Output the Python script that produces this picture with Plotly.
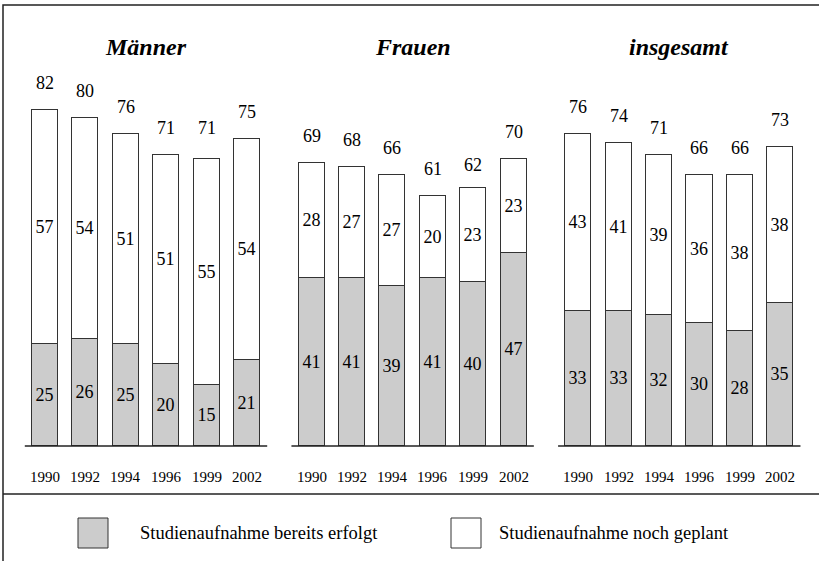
import plotly.graph_objects as go

groups = ["Männer", "Frauen", "insgesamt"]
years = ["1990", "1992", "1994", "1996", "1999", "2002"]
erfolgt = {
    "Männer": [25, 26, 25, 20, 15, 21],
    "Frauen": [41, 41, 39, 41, 40, 47],
    "insgesamt": [33, 33, 32, 30, 28, 35],
}
geplant = {
    "Männer": [57, 54, 51, 51, 55, 54],
    "Frauen": [28, 27, 27, 20, 23, 23],
    "insgesamt": [43, 41, 39, 36, 38, 38],
}
totals = {
    "Männer": [82, 80, 76, 71, 71, 75],
    "Frauen": [69, 68, 66, 61, 62, 70],
    "insgesamt": [76, 74, 71, 66, 66, 73],
}
legend_labels = ["Studienaufnahme bereits erfolgt", "Studienaufnahme noch geplant"]

GROUP_STEP = 6.6
FONT = "Liberation Serif"
GRAY = "#cccccc"
EDGE = "#333333"
W, H = 819, 561

xs, bottom, top, tot = [], [], [], []
for g, name in enumerate(groups):
    for i in range(len(years)):
        xs.append(g * GROUP_STEP + i)
        bottom.append(erfolgt[name][i])
        top.append(geplant[name][i])
        tot.append(totals[name][i])

fig = go.Figure()
fig.add_trace(go.Bar(
    x=xs, y=bottom, width=0.645, marker=dict(color=GRAY, line=dict(color=EDGE, width=1)),
    text=[str(v) for v in bottom], textposition="inside", insidetextanchor="middle",
    textfont=dict(family=FONT, size=18, color="black"), constraintext="none",
    name=legend_labels[0], hoverinfo="skip",
))
fig.add_trace(go.Bar(
    x=xs, y=top, width=0.645, marker=dict(color="white", line=dict(color=EDGE, width=1)),
    text=[str(v) for v in top], textposition="inside", insidetextanchor="middle",
    textfont=dict(family=FONT, size=18, color="black"), constraintext="none",
    name=legend_labels[1], hoverinfo="skip",
))

annotations = []
shapes = []
for x, t in zip(xs, tot):
    annotations.append(dict(x=x, y=t, xref="x", yref="y", text=str(t), showarrow=False,
                            yshift=27, font=dict(family=FONT, size=18, color="black")))
for g, name in enumerate(groups):
    for i, yr in enumerate(years):
        annotations.append(dict(x=g * GROUP_STEP + i, y=0, xref="x", yref="y", text=yr,
                                showarrow=False, yshift=-31,
                                font=dict(family=FONT, size=15, color="black")))
    annotations.append(dict(x=g * GROUP_STEP + 2.5, y=1 - 47 / H, xref="x", yref="paper",
                            yanchor="middle", text="<b><i>%s</i></b>" % name, showarrow=False,
                            font=dict(family=FONT, size=24, color="black")))
    shapes.append(dict(type="line", xref="x", yref="y", x0=g * GROUP_STEP - 0.5,
                       x1=g * GROUP_STEP + 5.5, y0=0, y1=0,
                       line=dict(color="#222222", width=1.5)))

# frame and separator
shapes.append(dict(type="rect", xref="paper", yref="paper", x0=3 / W, x1=1.05,
                   y0=-0.05, y1=1 - 5 / H, line=dict(color="#222222", width=1.5)))
shapes.append(dict(type="line", xref="paper", yref="paper", x0=3 / W, x1=1.05,
                   y0=1 - 494 / H, y1=1 - 494 / H, line=dict(color="#222222", width=1.5)))

# legend
for (bx, tx), fill, lab in zip([(78, 138), (451, 497)], [GRAY, "white"], legend_labels):
    shapes.append(dict(type="rect", xref="paper", yref="paper", x0=bx / W, x1=(bx + 30) / W,
                       y0=1 - 548 / H, y1=1 - 518 / H, fillcolor=fill,
                       line=dict(color=EDGE, width=1)))
    annotations.append(dict(x=tx / W, y=1 - 533 / H, xref="paper", yref="paper", text=lab,
                            showarrow=False, xanchor="left", yanchor="middle",
                            font=dict(family=FONT, size=18.5, color="black")))

PX = 40.4
x0 = -45 / PX
PY = 4.1
fig.update_layout(
    width=W, height=H, barmode="stack", showlegend=False,
    font=dict(family=FONT, color="black"),
    margin=dict(l=0, r=0, t=0, b=0), paper_bgcolor="white", plot_bgcolor="white",
    xaxis=dict(range=[x0, x0 + W / PX], visible=False, fixedrange=True),
    yaxis=dict(range=[-(H - 446) / PY, 446 / PY], visible=False, fixedrange=True),
    annotations=annotations, shapes=shapes, bargap=0,
)
fig.write_html("out.html", config={"displayModeBar": False},
               post_script="document.body.style.margin='0';document.body.style.overflow='hidden';")
